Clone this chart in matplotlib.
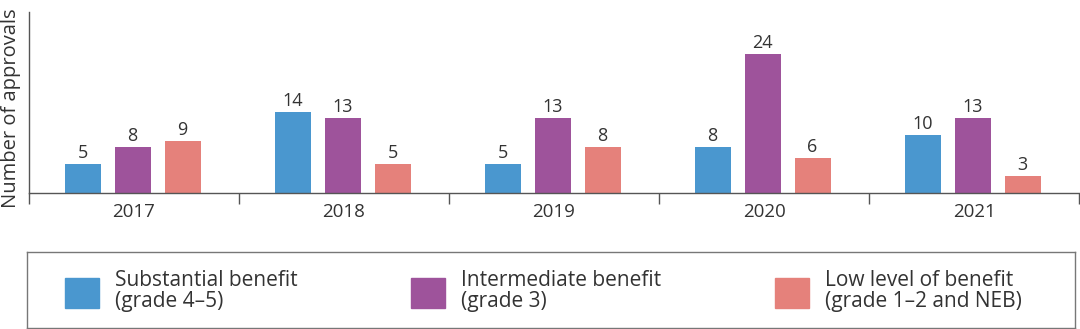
import numpy as np
import matplotlib
matplotlib.use('Agg')
import matplotlib.pyplot as plt
import matplotlib.patches as mpatches

plt.rcParams['font.family'] = ['Open Sans', 'DejaVu Sans']

# ─── DATA ────────────────────────────────────────────────────────────────
years = ['2017', '2018', '2019', '2020', '2021']
substantial = [5, 14, 5, 8, 10]
intermediate = [8, 13, 13, 24, 13]
low = [9, 5, 8, 6, 3]
series_labels = ['Substantial benefit\n(grade 4–5)',
                 'Intermediate benefit\n(grade 3)',
                 'Low level of benefit\n(grade 1–2 and NEB)']

COLORS = ['#4a97cf', '#9e539b', '#e5817b']
AXIS_COL = '#555555'
TEXT_COL = '#333333'

W, H = 1080, 329
fig = plt.figure(figsize=(W / 100, H / 100), dpi=100)

# main axes: baseline at y=193px, top at 12px, x from 29 to 1079
ax = fig.add_axes([29 / W, (H - 193) / H, 1050 / W, 181 / H])
x = np.arange(len(years))
bw = 36 / 210
step = 50 / 210
for i, vals in enumerate([substantial, intermediate, low]):
    pos = x + (i - 1) * step - 1.5 / 210
    bars = ax.bar(pos, vals, width=bw, color=COLORS[i], zorder=2)
    for b, v in zip(bars, vals):
        ax.text(b.get_x() + b.get_width() / 2, v + 0.35, str(v),
                ha='center', va='bottom', fontsize=13, color=TEXT_COL)

ax.set_xlim(-0.5, len(years) - 0.5)
ax.set_ylim(0, 31.2)
ax.set_yticks([])
ax.set_xticks(x)
ax.set_xticklabels(years, fontsize=13.5, color=TEXT_COL)
ax.tick_params(axis='x', which='major', length=0, pad=7)
ax.set_xticks(np.arange(-0.5, len(years)), minor=True)
ax.tick_params(axis='x', which='minor', length=8, width=1, color=AXIS_COL, direction='out')
for s in ['top', 'right']:
    ax.spines[s].set_visible(False)
ax.spines['left'].set_color(AXIS_COL)
ax.spines['bottom'].set_color(AXIS_COL)
ax.spines['left'].set_linewidth(1)
ax.spines['bottom'].set_linewidth(1)
fig.text(11 / W, 1 - 108 / H, 'Number of approvals', rotation=90,
         ha='center', va='center', fontsize=14.5, color=TEXT_COL)

# legend box
lax = fig.add_axes([27 / W, 1 / H, 1048 / W, 76 / H])
lax.set_xlim(0, 1048)
lax.set_ylim(0, 76)
lax.set_xticks([])
lax.set_yticks([])
for s in lax.spines.values():
    s.set_color('#777777')
    s.set_linewidth(1)
patch_x = [38, 384, 748]
for px, col, lab in zip(patch_x, COLORS, series_labels):
    lax.add_patch(mpatches.Rectangle((px, 20), 34, 30, color=col))
    lax.text(px + 50, 36.5, lab, ha='left', va='center', fontsize=15,
             color=TEXT_COL, linespacing=1.0)

fig.savefig('out.png', dpi=100)
